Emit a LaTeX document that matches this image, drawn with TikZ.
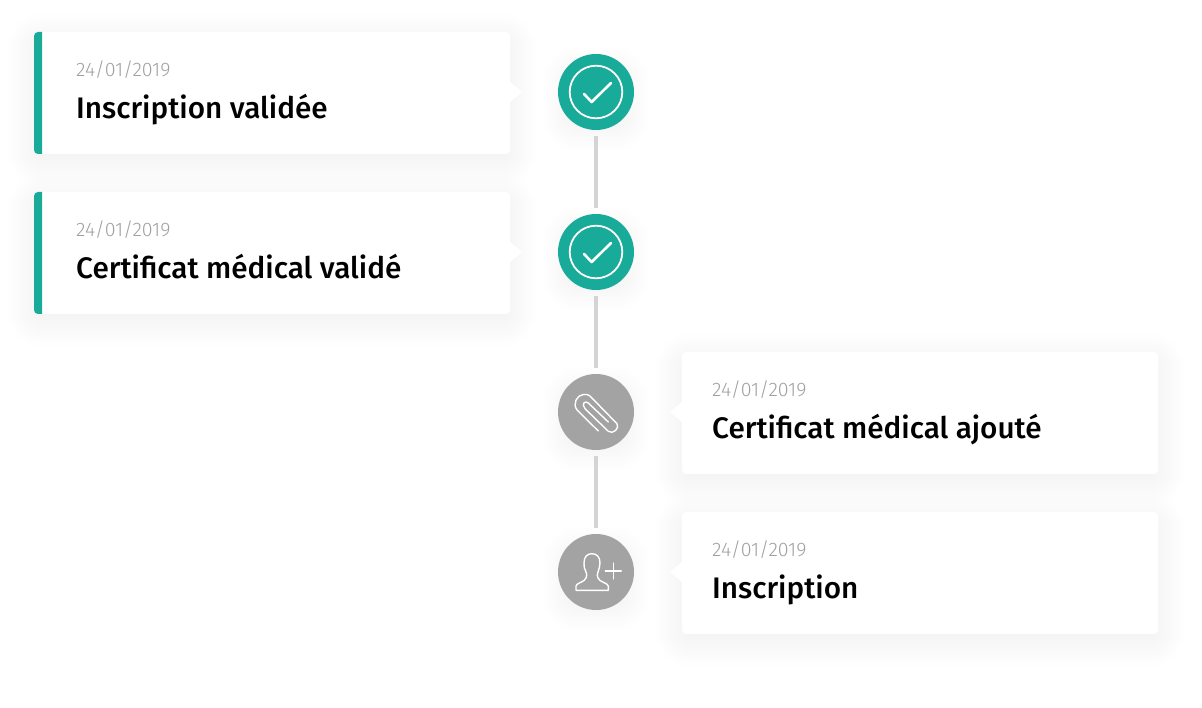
\documentclass[tikz,border=0pt]{standalone}
\usepackage{fontspec}
\setmainfont{Fira Sans}
\newfontfamily\titlefont{Fira Sans Medium}
\newfontfamily\datefont{Fira Sans Light}
\usetikzlibrary{positioning, calc, backgrounds}
\definecolor{tealok}{HTML}{19AB99}
\definecolor{greystep}{HTML}{A3A3A3}
\definecolor{greyline}{HTML}{D4D4D4}
\definecolor{greydate}{HTML}{A0A0A0}

\begin{document}
\begin{tikzpicture}[
    x=1pt, y=-1pt,
    node distance=84pt,
    stepdot/.style={circle, inner sep=0pt, outer sep=0pt, minimum size=76pt},
    card/.style={fill=white, rounded corners=4pt, inner sep=0pt, outer sep=0pt, minimum width=476pt, minimum height=122pt},
    datelabel/.style={inner sep=0pt, anchor=base west, text=greydate, font=\datefont\fontsize{19.6}{20}\selectfont},
    titlelabel/.style={inner sep=0pt, anchor=base west, text=black, font=\titlefont\fontsize{29.7}{30}\selectfont},
    connector/.style={greyline, line width=4pt, shorten >=6pt, shorten <=6pt},
    icon/.style={white, line width=1.4pt, line cap=round, line join=round}
]
\useasboundingbox (0,0) rectangle (1202,708);

% Steps
\node[stepdot, fill=tealok] (stepa) at (596,92) {};
\node[stepdot, fill=tealok, below=of stepa] (stepb) {};
\node[stepdot, fill=greystep, below=of stepb] (stepc) {};
\node[stepdot, fill=greystep, below=of stepc] (stepd) {};

% Cards
\node[card, left=48pt of stepa, yshift=-1pt] (carda) {};
\node[card, left=48pt of stepb, yshift=-1pt] (cardb) {};
\node[card, right=48pt of stepc, yshift=-1pt] (cardc) {};
\node[card, right=48pt of stepd, yshift=-1pt] (cardd) {};

% Shadows
\begin{scope}[on background layer]
\fill[white] (0,0) rectangle (1202,708);
\foreach \n in {carda,cardb,cardc,cardd,stepa,stepb,stepc,stepd} {
    \foreach \g in {0,3,...,30} {
        \fill[black, opacity=.0042, rounded corners=\g pt+4pt]
            ($(\n.north west)+(-\g+4,-\g+12)$) rectangle ($(\n.south east)+(\g-4,\g+2)$);
    }
}
\end{scope}

% Connectors
\draw[connector] (stepa) -- (stepb);
\draw[connector] (stepb) -- (stepc);
\draw[connector] (stepc) -- (stepd);

% Accents
\foreach \n in {carda,cardb} {
    \fill[tealok] ($(\n.north west)+(8,0)$) -- ($(\n.north west)+(4,0)$)
        arc[start angle=90, end angle=180, radius=4pt]
        -- ($(\n.south west)+(0,-4)$)
        arc[start angle=180, end angle=270, radius=4pt]
        -- ($(\n.south west)+(8,0)$) -- cycle;
}

% Pointers
\fill[white] ($(carda.east)+(-1,-12)$) -- ($(carda.east)+(12,-1)$) -- ($(carda.east)+(-1,10)$) -- cycle;
\fill[white] ($(cardb.east)+(-1,-12)$) -- ($(cardb.east)+(12,-1)$) -- ($(cardb.east)+(-1,10)$) -- cycle;
\fill[white] ($(cardc.west)+(1,-12)$) -- ($(cardc.west)+(-12,-1)$) -- ($(cardc.west)+(1,10)$) -- cycle;
\fill[white] ($(cardd.west)+(1,-12)$) -- ($(cardd.west)+(-12,-1)$) -- ($(cardd.west)+(1,10)$) -- cycle;

% Texts
\node[datelabel] (datea) at ($(carda.north west)+(42,44.7)$) {24/01/2019};
\node[titlelabel] (titlea) at ($(carda.north west)+(42,86.5)$) {Inscription validée};
\node[datelabel] (dateb) at ($(cardb.north west)+(42,44.7)$) {24/01/2019};
\node[titlelabel] (titleb) at ($(cardb.north west)+(42,86.5)$) {Certificat médical validé};
\node[datelabel] (datec) at ($(cardc.north west)+(30,44.7)$) {24/01/2019};
\node[titlelabel] (titlec) at ($(cardc.north west)+(30,86.5)$) {Certificat médical ajouté};
\node[datelabel] (dated) at ($(cardd.north west)+(30,44.7)$) {24/01/2019};
\node[titlelabel] (titled) at ($(cardd.north west)+(30,86.5)$) {Inscription};

% Icons
\foreach \n in {stepa,stepb} {
    \begin{scope}[shift={(\n.center)}]
    \draw[icon, line width=1.8pt] (0,0) circle[radius=26.3pt];
    \draw[icon, line width=2.6pt] (-12,2) -- (-4.3,10) -- (15,-9);
    \end{scope}
}
\begin{scope}[shift={(stepc.center)}]
\draw[icon] (2.3,19) -- (-18.7,-1.7) .. controls (-24,-8) and (-19,-17) .. (-12.7,-17.5)
    .. controls (-10,-18) and (-8,-17.5) .. (-6,-16) -- (21,11.7)
    .. controls (24,16) and (17,23) .. (12.3,19.3) -- (-11,-3.3)
    .. controls (-15,-8) and (-11,-12) .. (-7.7,-9) -- (12.3,10);
\end{scope}
\begin{scope}[shift={(stepd.center)}]
\draw[icon] (-20,18.3) -- (-20,14) .. controls (-20,11) and (-11,10) .. (-10,6)
    .. controls (-9,3) and (-9,2) .. (-10,0) .. controls (-12,-3) and (-12,-6) .. (-12,-9)
    .. controls (-12,-15) and (-9,-18.3) .. (-4.3,-18.3) .. controls (1,-18.3) and (4,-15) .. (4,-9)
    .. controls (4,-6) and (3,-3) .. (2,0) .. controls (1,2) and (1,4) .. (2,6)
    .. controls (3,10) and (12.3,11) .. (12.3,14) -- (12.3,18.3) -- cycle;
\draw[icon] (9.3,-1) -- (25.3,-1) (17.3,-9) -- (17.3,7);
\end{scope}

\end{tikzpicture}
\end{document}
